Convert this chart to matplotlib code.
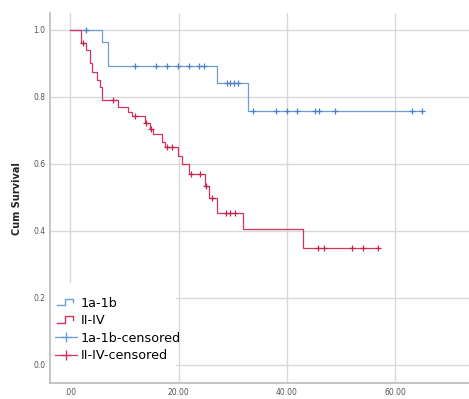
import matplotlib
matplotlib.use("Agg")
import matplotlib.pyplot as plt
import numpy as np
from matplotlib.lines import Line2D
from matplotlib.patches import Rectangle
from matplotlib.legend_handler import HandlerBase

# survival steps (time, survival after the event)
blue_t = [0, 5.8, 7.0, 27.1, 32.8]
blue_s = [1.0, 0.964, 0.893, 0.842, 0.759]
blue_end = 65.0
blue_cens_t = [3.0, 12.0, 15.9, 17.9, 19.9, 21.9, 23.8, 24.7, 29.0, 29.5, 30.3, 31.0,
               33.8, 38.0, 40.0, 41.9, 45.2, 45.9, 48.9, 63.1, 64.9]

red_t = [0, 1.9, 3.0, 3.6, 4.1, 5.0, 5.5, 5.9, 8.9, 10.7, 11.4, 13.8, 14.8, 15.3, 17.0,
         17.5, 19.9, 20.7, 22.0, 24.9, 25.6, 27.1, 31.9, 43.0]
red_s = [1.0, 0.96, 0.94, 0.90, 0.875, 0.85, 0.83, 0.79, 0.77, 0.755, 0.744, 0.723, 0.705,
         0.69, 0.665, 0.652, 0.625, 0.60, 0.57, 0.535, 0.497, 0.455, 0.405, 0.348]
red_end = 56.8
red_cens_t = [2.4, 7.9, 12.0, 14.0, 14.9, 17.9, 18.8, 22.3, 24.0, 25.1, 26.2, 28.8, 29.5,
              30.4, 45.8, 46.9, 52.0, 54.1, 56.8]

labels = ["1a-1b", "II-IV", "1a-1b-censored", "II-IV-censored"]
blue = "#6a9fd8"
red = "#d8335f"


def surv_at(ts, ss, t):
    i = np.searchsorted(ts, t, side="right") - 1
    return ss[i]


class StepHandler(HandlerBase):
    def create_artists(self, legend, orig_handle, xdescent, ydescent, width, height,
                       fontsize, trans):
        x0, x1 = -xdescent + width * 0.1, -xdescent + width * 0.8
        mid = (x0 + x1) / 2
        lo, hi = -ydescent + height * 0.15, -ydescent + height * 0.85
        ln = Line2D([x0, mid, mid, x1, x1], [lo, lo, hi, hi, lo * 0.5 + hi * 0.5],
                    color=orig_handle.get_color(), lw=1.0, transform=trans)
        return [ln]


fig = plt.figure(figsize=(4.69, 3.99), dpi=100)
ax = fig.add_axes([0.107, 0.04, 0.893, 0.927])

bt = blue_t + [blue_end]
bs = blue_s + [blue_s[-1]]
rt = red_t + [red_end]
rs = red_s + [red_s[-1]]
h1, = ax.step(bt, bs, where="post", color=blue, lw=0.9, zorder=3)
h2, = ax.step(rt, rs, where="post", color=red, lw=0.9, zorder=3)

bc = [surv_at(blue_t, blue_s, t) for t in blue_cens_t]
rc = [surv_at(red_t, red_s, t) for t in red_cens_t]
h3, = ax.plot(blue_cens_t, bc, ls="none", marker="+", ms=5, mew=0.9, color="#4d7fc4", zorder=4)
h4, = ax.plot(red_cens_t, rc, ls="none", marker="+", ms=5, mew=0.9, color="#c0244f", zorder=4)

ax.set_xlim(-3.7, 73.6)
ax.set_ylim(-0.054, 1.05)
ax.set_xticks([0, 20, 40, 60])
ax.set_xticklabels([".00", "20.00", "40.00", "60.00"])
ax.set_yticks([0, 0.2, 0.4, 0.6, 0.8, 1.0])
ax.set_yticklabels(["0.0", "0.2", "0.4", "0.6", "0.8", "1.0"])
ax.tick_params(labelsize=5.5, colors="#555555", length=0)
ax.grid(True, color="#d9d9d9", lw=1.0)
ax.set_axisbelow(True)
for side in ["top", "right"]:
    ax.spines[side].set_visible(False)
for side in ["left", "bottom"]:
    ax.spines[side].set_color("#bbbbbb")
    ax.spines[side].set_linewidth(1.2)
ax.set_ylabel("Cum Survival", fontsize=7, fontweight="bold", color="#222222", labelpad=8)

# white patch behind the legend, hiding the grid like the original
ax.add_patch(Rectangle((0, 0), 0.3, 0.27, transform=ax.transAxes, facecolor="white",
                       edgecolor="none", zorder=2))

l3 = Line2D([0], [0], color=blue, lw=0.9, marker="+", ms=7, mew=1)
l4 = Line2D([0], [0], color=red, lw=0.9, marker="+", ms=7, mew=1)
leg = ax.legend([h1, h2, l3, l4], labels, loc="lower left", bbox_to_anchor=(0.0, 0.043),
                borderaxespad=0, fontsize=9.2, frameon=False,
                handlelength=1.7, handletextpad=0.3, labelspacing=0.35,
                borderpad=0.4,
                handler_map={h1: StepHandler(), h2: StepHandler()})

fig.savefig("out.png", dpi=100)
